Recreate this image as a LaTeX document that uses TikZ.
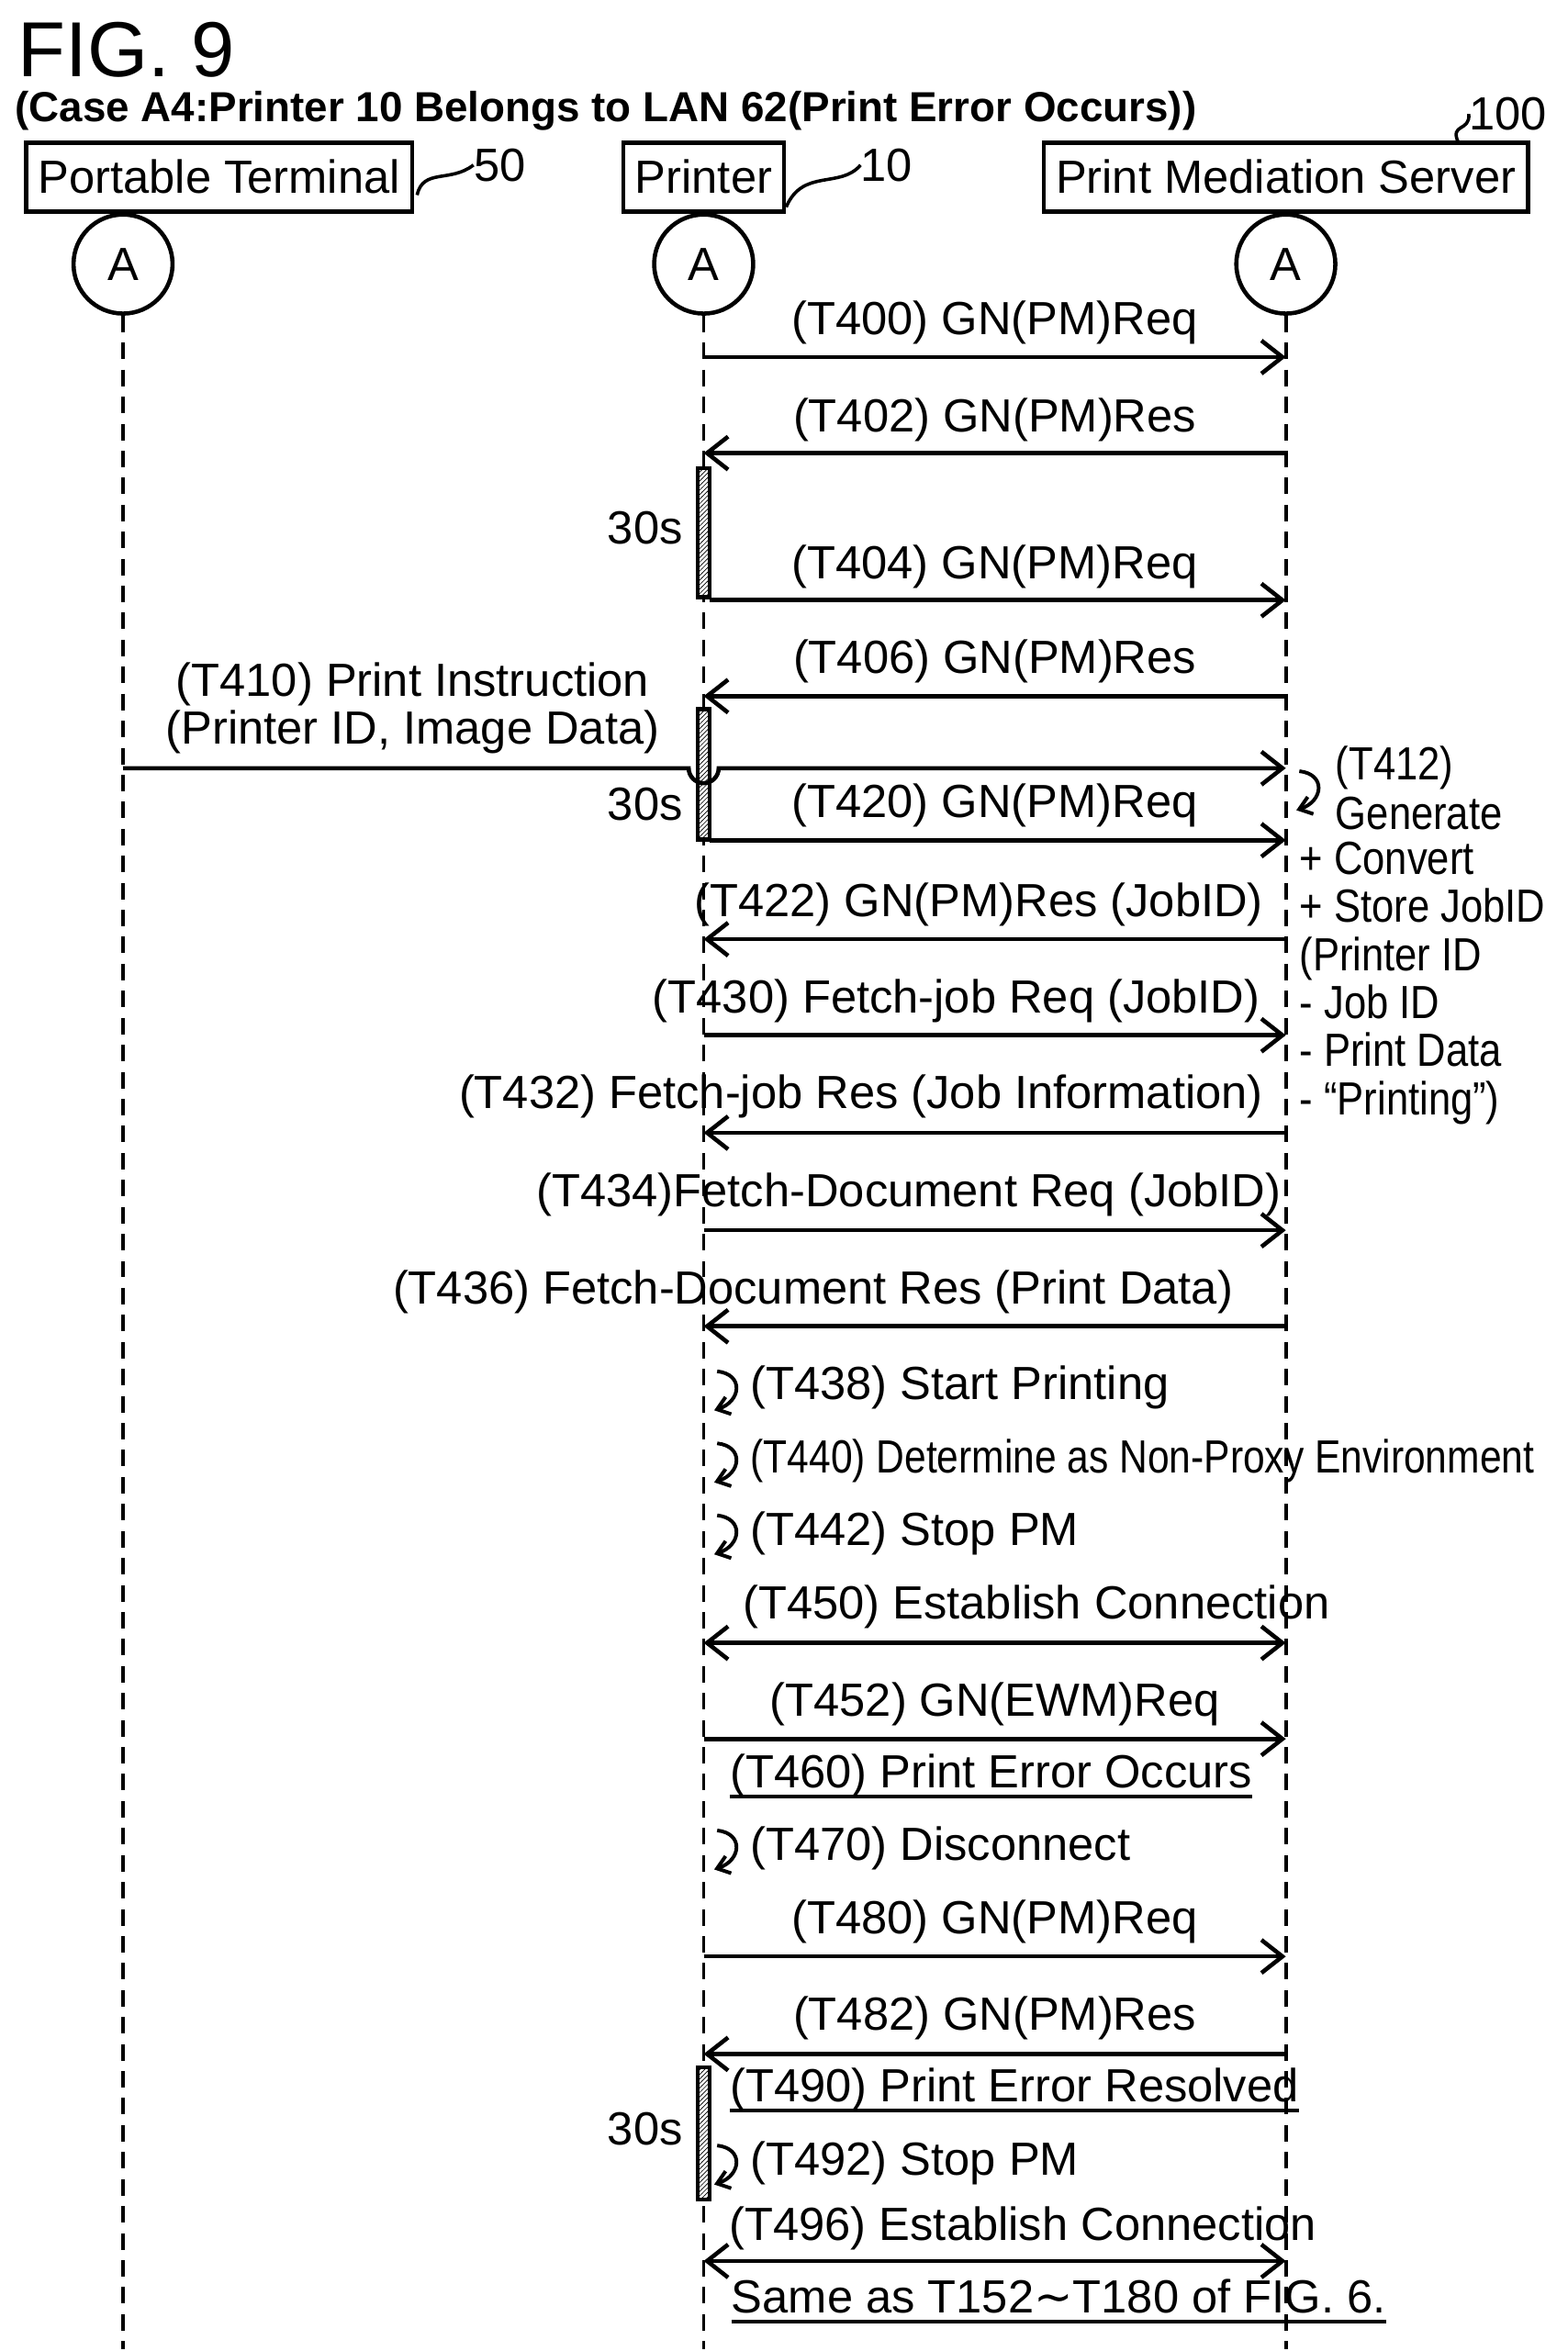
\documentclass[tikz,border=0pt]{standalone}
\usepackage{fontspec}
\setmainfont{Liberation Sans}
\newfontfamily\djv{DejaVu Sans}
\usetikzlibrary{arrows.meta,patterns}
\newcommand\fs{\fontsize{31}{34}\selectfont}
\newcommand\cond[1]{\scalebox{0.86}[1]{#1}}
\newcommand\ul[1]{\tikz[baseline=(u.base)]{\node[inner sep=0pt] (u) {#1}; \draw[line width=2.4pt] ([yshift=-6pt]u.base west) -- ([yshift=-6pt]u.base east);}}
\begin{document}
\begin{tikzpicture}[x=1pt,y=-1pt,
  every node/.style={font=\fs,inner sep=0pt},
  ln/.style={line width=2.8pt},
  oa/.style={-{Straight Barb[length=14pt,width=22pt,line width=2.8pt]}},
  da/.style={{Straight Barb[length=14pt,width=22pt,line width=2.8pt]}-{Straight Barb[length=14pt,width=22pt,line width=2.8pt]}},
  life/.style={line width=2.4pt,dash pattern=on 11pt off 7pt},
  hdr/.style={draw,line width=2.8pt,minimum height=46pt,inner xsep=8pt},
  circ/.style={draw,circle,line width=2.8pt,minimum size=66pt},
  brs/.style={draw,line width=2.8pt,minimum width=8pt,fill=white,postaction={pattern=north east lines}}]
\useasboundingbox (0,0) rectangle (1045,1567);
\node[anchor=west,font=\fontsize{52}{54}\selectfont] (fig) at (12,33) {FIG. 9};
\node[anchor=west,font=\fontsize{28}{30}\selectfont\bfseries] (sub) at (10,74) {(Case A4:Printer 10 Belongs to LAN 62(Print Error Occurs))};
% headers
\node[hdr] (hT) at (146,118) {Portable Terminal};
\node[hdr] (hP) at (469,118) {Printer};
\node[hdr] (hS) at (857,118) {Print Mediation Server};
\node (r50) at (333,110) {50};
\node (r10) at (591,110) {10};
\node (r100) at (1005,76) {100};
\coordinate (a1) at (278,130);
\coordinate (a2) at (524,138);
\coordinate (a3) at (972,95);
\draw[line width=2.2pt] (a1) .. controls (282,112) and (300,122) .. (r50.west);
\draw[line width=2.2pt] (a2) .. controls (535,112) and (560,126) .. (r10.west);
\draw[line width=2.2pt] (a3) .. controls (966,82) and (980,88) .. (r100.west);
% circles
\node[circ] (cT) at (82,176) {A};
\node[circ] (cP) at (469,176) {A};
\node[circ] (cS) at (857,176) {A};
\coordinate (eT) at (82,1566);
\coordinate (eP) at (469,1566);
\coordinate (eS) at (857,1566);
\draw[life] (cT) -- (eT);
\draw[life] (cP) -- (eP);
\draw[life] (cS) -- (eS);
% bars
\node[brs,minimum height=86pt] (b1) at (469,355) {};
\node[brs,minimum height=87pt] (b2) at (469,516) {};
\node[brs,minimum height=88pt] (b3) at (469,1422) {};
\node (s1) at (430,352) {30s};
\node (s2) at (430,536) {30s};
\node (s3) at (430,1419) {30s};
% messages
\newcommand\msg[4]{\coordinate (#1a) at (#2,#4); \coordinate (#1b) at (#3,#4);}
\msg{m400}{469}{857}{238} \draw[ln,oa] (m400a) -- (m400b); \node (t400) at (663,215) {(T400) GN(PM)Req};
\msg{m402}{857}{469}{302} \draw[ln,oa] (m402a) -- (m402b); \node (t402) at (663,280) {(T402) GN(PM)Res};
\msg{m404}{473}{857}{400} \draw[ln,oa] (m404a) -- (m404b); \node (t404) at (663,378) {(T404) GN(PM)Req};
\msg{m406}{857}{469}{464} \draw[ln,oa] (m406a) -- (m406b); \node (t406) at (663,441) {(T406) GN(PM)Res};
\coordinate (m410a) at (82,512); \coordinate (m410h1) at (459,512); \coordinate (m410b) at (857,512);
\draw[ln,oa] (m410a) -- (m410h1) arc[start angle=180,end angle=0,radius=10] -- (m410b);
\node (t410a) at (275,456) {(T410) Print Instruction};
\node (t410b) at (275,488) {(Printer ID, Image Data)};
\msg{m420}{473}{857}{560} \draw[ln,oa] (m420a) -- (m420b); \node (t420) at (663,537) {(T420) GN(PM)Req};
\msg{m422}{857}{469}{626} \draw[ln,oa] (m422a) -- (m422b); \node[anchor=east] (t422) at (842,603) {(T422) GN(PM)Res (JobID)};
\msg{m430}{469}{857}{690} \draw[ln,oa] (m430a) -- (m430b); \node[anchor=east] (t430) at (840,667) {(T430) Fetch-job Req (JobID)};
\msg{m432}{857}{469}{755} \draw[ln,oa] (m432a) -- (m432b); \node[anchor=east] (t432) at (842,731) {(T432) Fetch-job Res (Job Information)};
\msg{m434}{469}{857}{820} \draw[ln,oa] (m434a) -- (m434b); \node[anchor=east] (t434) at (854,796) {(T434)Fetch-Document Req (JobID)};
\msg{m436}{857}{469}{884} \draw[ln,oa] (m436a) -- (m436b); \node[anchor=east] (t436) at (822,861) {(T436) Fetch-Document Res (Print Data)};
\msg{m450}{469}{857}{1095} \draw[ln,da] (m450a) -- (m450b); \node[anchor=west] (t450) at (495,1071) {(T450) Establish Connection};
\msg{m452}{469}{857}{1159} \draw[ln,oa] (m452a) -- (m452b); \node (t452) at (663,1136) {(T452) GN(EWM)Req};
\msg{m480}{469}{857}{1304} \draw[ln,oa] (m480a) -- (m480b); \node (t480) at (663,1281) {(T480) GN(PM)Req};
\msg{m482}{857}{469}{1369} \draw[ln,oa] (m482a) -- (m482b); \node (t482) at (663,1345) {(T482) GN(PM)Res};
\msg{m496}{469}{857}{1507} \draw[ln,da] (m496a) -- (m496b); \node[anchor=west] (t496) at (486,1485) {(T496) Establish Connection};
% underlined
\node[anchor=west] (t460) at (485,1184) {\ul{(T460) Print Error Occurs}};
\node[anchor=west] (t490) at (485,1393) {\ul{(T490) Print Error Resolved}};
\node[anchor=west] (tsame) at (486,1534) {\ul{Same as T152{\djv ∼}T180 of FIG. 6.}};
% self loops
\newcommand\loopat[3]{\coordinate (#1s) at (#2+4,#3-14); \coordinate (#1e) at (#2+2,#3+12);
 \draw[line width=2.4pt,-{Straight Barb[length=8pt,width=12pt,line width=2.4pt]}] (#1s) .. controls (#2+22,#3-12) and (#2+20,#3+6) .. (#1e);}
\loopat{l412}{862}{528}
\loopat{l438}{474}{928}
\loopat{l440}{474}{976}
\loopat{l442}{474}{1024}
\loopat{l470}{474}{1234}
\loopat{l492}{474}{1444}
\node[anchor=west] (t438) at (500,925) {(T438) Start Printing};
\node[anchor=west] (t440) at (500,974) {\scalebox{0.84}[1]{(T440) Determine as Non-Proxy Environment}};
\node[anchor=west] (t442) at (500,1022) {(T442) Stop PM};
\node[anchor=west] (t470) at (500,1232) {(T470) Disconnect};
\node[anchor=west] (t492) at (500,1442) {(T492) Stop PM};
\node[anchor=north west,align=left] (t412a) at (890,497) {\cond{(T412)}\\[-1pt]\cond{Generate}};
\node[anchor=north west,align=left] (t412b) at (866,561) {\cond{+ Convert}\\[-2pt]\cond{+ Store JobID}\\[-2pt]\cond{(Printer ID}\\[-2pt]\cond{- Job ID}\\[-2pt]\cond{- Print Data}\\[-2pt]\cond{- “Printing”)}};
\end{tikzpicture}
\end{document}
